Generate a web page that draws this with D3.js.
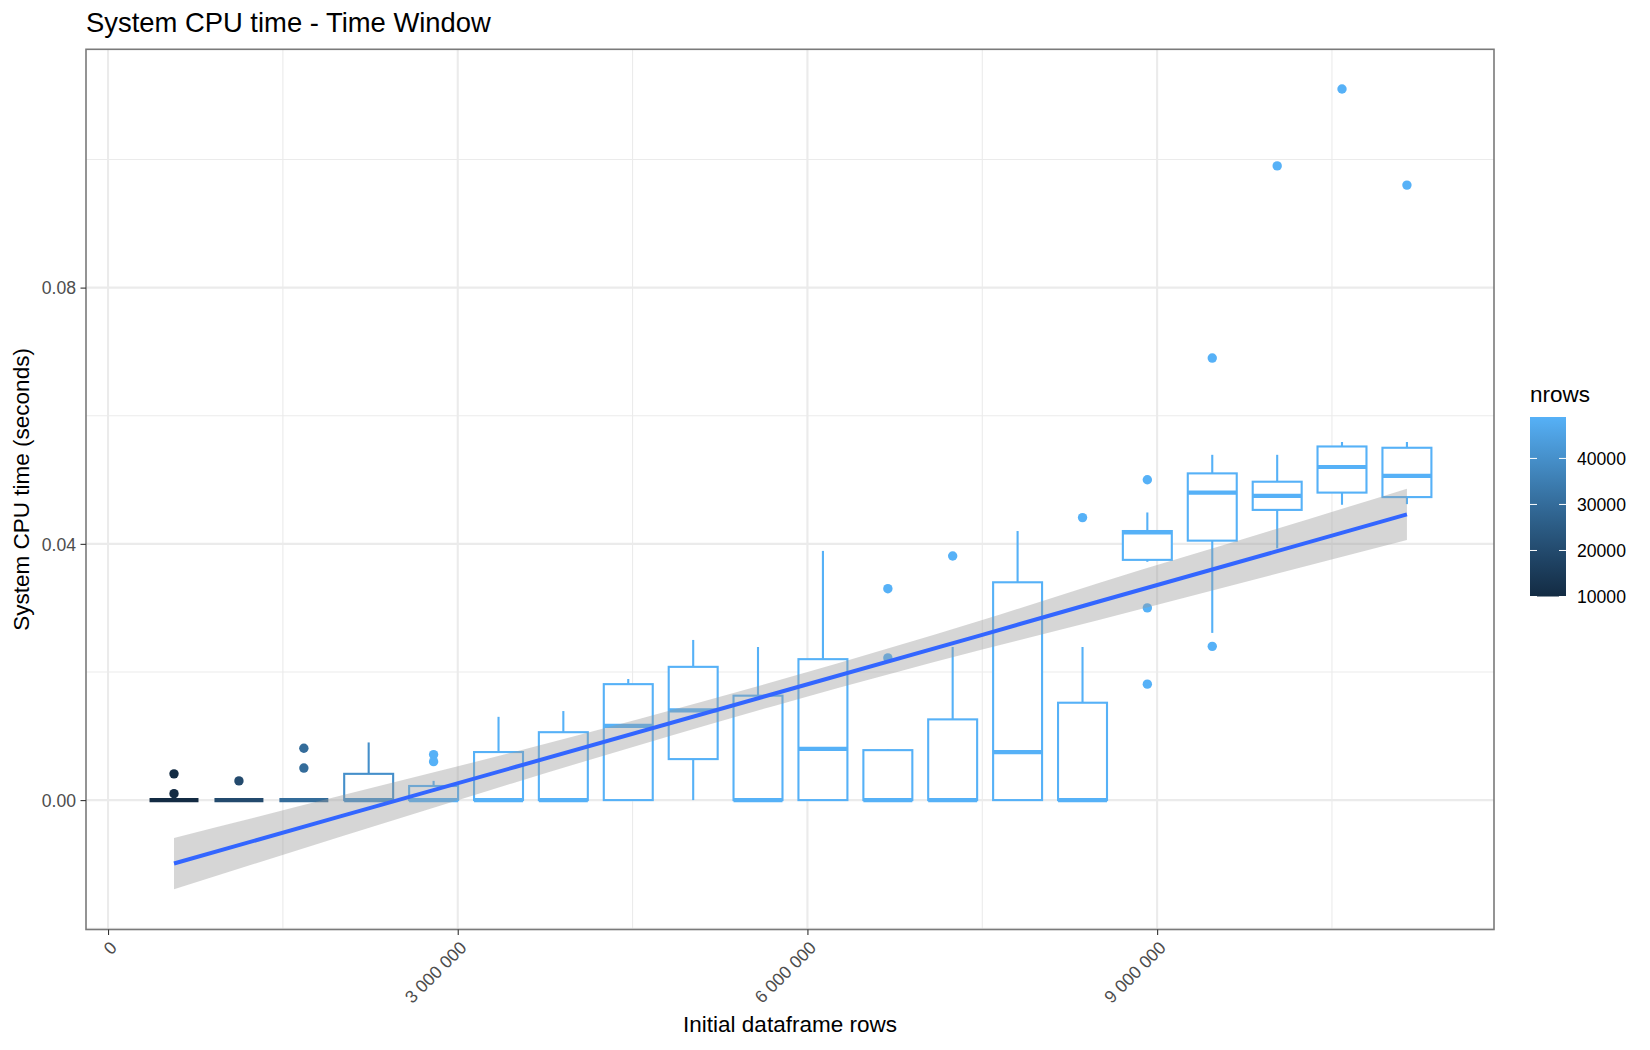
<!DOCTYPE html>
<html>
<head>
<meta charset="utf-8">
<script src="https://cdn.jsdelivr.net/npm/d3@7"></script>
<style>
  body { margin: 0; background: #fff; }
  text { font-family: "Liberation Sans", Arial, Helvetica, sans-serif; }
</style>
</head>
<body>
<div id="chart"></div>
<script>
const boxX = [566000, 1123000, 1680000, 2236000, 2793000, 3350000, 3906000, 4463000, 5020000, 5576000,
              6133000, 6690000, 7246000, 7803000, 8360000, 8916000, 9473000, 10030000, 10586000, 11143000]
const boxNrows = [10000, 20000, 30000, 40000, 49000, 49000, 49000, 49000, 49000, 49000,
                  49000, 49000, 49000, 49000, 49000, 49000, 49000, 49000, 49000, 49000]
const whiskerLow = [0, 0, 0, 0, 0, 0, 0, 0, 0, 0, 0, 0, 0, 0, 0, 0.0372, 0.0261, 0.0393, 0.0461, 0.0462]
const q1 = [0, 0, 0, 0, 0, 0, 0, 0, 0.0064, 0, 0, 0, 0, 0, 0, 0.0375, 0.0405, 0.0453, 0.0480, 0.0473]
const median = [0, 0, 0, 0, 0, 0, 0, 0.0116, 0.0140, 0, 0.0080, 0, 0, 0.0075, 0, 0.0418, 0.0480, 0.0475, 0.0520, 0.0506]
const q3 = [0, 0, 0, 0.0041, 0.0022, 0.0075, 0.0106, 0.0181, 0.0208, 0.0163,
            0.0220, 0.0078, 0.0126, 0.0340, 0.0152, 0.0420, 0.0510, 0.0497, 0.0552, 0.0550]
const whiskerHigh = [0, 0, 0, 0.0090, 0.0030, 0.0130, 0.0139, 0.0189, 0.0250, 0.0239,
                     0.0389, 0.0079, 0.0239, 0.0420, 0.0239, 0.0449, 0.0539, 0.0539, 0.0559, 0.0559]
const outliers = [[0.0041, 0.0010], [0.0030], [0.0081, 0.0050], [], [0.0071, 0.0060],
                  [], [], [], [], [],
                  [], [0.0330, 0.0222], [0.0381], [], [0.0441],
                  [0.0500, 0.0300, 0.0181], [0.0690, 0.0240], [0.0990], [0.1110], [0.0960]]

const smoothX = [566000, 2000000, 3500000, 5850000, 7500000, 8500000, 10000000, 11143000]
const smoothFit = [-0.0099, -0.0025, 0.0052, 0.0173, 0.0258, 0.0310, 0.0387, 0.0446]
const smoothLow = [-0.0139, -0.0057, 0.0028, 0.0154, 0.0235, 0.0281, 0.0352, 0.0406]
const smoothHigh = [-0.0059, 0.0007, 0.0076, 0.0192, 0.0281, 0.0339, 0.0422, 0.0486]

const xTicks = [0, 3000000, 6000000, 9000000]
const xTickLabels = ["0", "3 000 000", "6 000 000", "9 000 000"]
const xMinor = [1500000, 4500000, 7500000, 10500000]
const yTicks = [0, 0.04, 0.08]
const yTickLabels = ["0.00", "0.04", "0.08"]
const yMinor = [-0.02, 0.02, 0.06, 0.10]
const legendTicks = [10000, 20000, 30000, 40000]

const width = 1650, height = 1050
const pLeft = 86, pRight = 1494, pTop = 49.3, pBottom = 929.5
const boxWidth = 420000

const xScale = d3.scaleLinear().domain([-189000, 11890000]).range([pLeft, pRight])
const yScale = d3.scaleLinear().domain([-0.0202, 0.1172]).range([pBottom, pTop])
const colour = d3.scaleLinear().domain([10000, 49000]).range(["#132B43", "#56B1F7"]).interpolate(d3.interpolateLab)

const svg = d3.select("#chart").append("svg")
  .attr("width", width)
  .attr("height", height)

svg.append("rect").attr("width", width).attr("height", height).attr("fill", "#fff")

// grid
const grid = svg.append("g")
grid.selectAll(".ymin").data(yMinor).enter().append("line")
  .attr("x1", pLeft).attr("x2", pRight)
  .attr("y1", d => yScale(d)).attr("y2", d => yScale(d))
  .attr("stroke", "#ebebeb").attr("stroke-width", 1.1)
grid.selectAll(".xmin").data(xMinor).enter().append("line")
  .attr("y1", pTop).attr("y2", pBottom)
  .attr("x1", d => xScale(d)).attr("x2", d => xScale(d))
  .attr("stroke", "#ebebeb").attr("stroke-width", 1.1)
grid.selectAll(".ymaj").data(yTicks).enter().append("line")
  .attr("x1", pLeft).attr("x2", pRight)
  .attr("y1", d => yScale(d)).attr("y2", d => yScale(d))
  .attr("stroke", "#ebebeb").attr("stroke-width", 2.1)
grid.selectAll(".xmaj").data(xTicks).enter().append("line")
  .attr("y1", pTop).attr("y2", pBottom)
  .attr("x1", d => xScale(d)).attr("x2", d => xScale(d))
  .attr("stroke", "#ebebeb").attr("stroke-width", 2.1)

// boxplots
const boxes = svg.selectAll(".box").data(boxX.map((x, i) => i)).enter()
  .append("g").attr("class", "box")

boxes.each(function(i) {
  const g = d3.select(this)
  const c = colour(boxNrows[i])
  const cx = xScale(boxX[i])
  const x0 = xScale(boxX[i] - boxWidth / 2), x1 = xScale(boxX[i] + boxWidth / 2)
  g.selectAll("circle").data(outliers[i]).enter().append("circle")
    .attr("cx", cx).attr("cy", d => yScale(d)).attr("r", 4.7).attr("fill", c)
  g.append("line").attr("x1", cx).attr("x2", cx)
    .attr("y1", yScale(q3[i])).attr("y2", yScale(whiskerHigh[i]))
    .attr("stroke", c).attr("stroke-width", 2.1)
  g.append("line").attr("x1", cx).attr("x2", cx)
    .attr("y1", yScale(q1[i])).attr("y2", yScale(whiskerLow[i]))
    .attr("stroke", c).attr("stroke-width", 2.1)
  g.append("rect")
    .attr("x", x0).attr("width", x1 - x0)
    .attr("y", yScale(q3[i])).attr("height", yScale(q1[i]) - yScale(q3[i]))
    .attr("fill", "#fff").attr("stroke", c).attr("stroke-width", 2.1)
  g.append("line").attr("x1", x0).attr("x2", x1)
    .attr("y1", yScale(median[i])).attr("y2", yScale(median[i]))
    .attr("stroke", c).attr("stroke-width", 4.2)
})

// smooth
const smooth = smoothX.map((x, i) => ({ x: x, fit: smoothFit[i], lo: smoothLow[i], hi: smoothHigh[i] }))
svg.append("path").datum(smooth)
  .attr("d", d3.area().curve(d3.curveMonotoneX)
    .x(d => xScale(d.x)).y0(d => yScale(d.lo)).y1(d => yScale(d.hi)))
  .attr("fill", "#999999").attr("fill-opacity", 0.4)
svg.append("path").datum(smooth)
  .attr("d", d3.line().x(d => xScale(d.x)).y(d => yScale(d.fit)))
  .attr("fill", "none").attr("stroke", "#3366FF").attr("stroke-width", 4)

// panel border
svg.append("rect")
  .attr("x", pLeft).attr("y", pTop).attr("width", pRight - pLeft).attr("height", pBottom - pTop)
  .attr("fill", "none").attr("stroke", "#7a7a7a").attr("stroke-width", 1.6)

// axes
const xAxis = d3.axisBottom(xScale).tickValues(xTicks).tickFormat((d, i) => xTickLabels[i])
  .tickSize(5.5).tickSizeOuter(0)
const gx = svg.append("g").attr("transform", "translate(0," + pBottom + ")").call(xAxis)
gx.select(".domain").remove()
gx.selectAll("line").attr("stroke", "#333333").attr("stroke-width", 1.1)
gx.selectAll("text")
  .attr("x", 0).attr("y", 0).attr("dy", "0.75em")
  .attr("text-anchor", "end")
  .attr("transform", "translate(0,10) rotate(-45)")
  .attr("fill", "#4d4d4d").attr("font-size", 17.6)
  .style("font-family", "'Liberation Sans', Arial, sans-serif")

const yAxis = d3.axisLeft(yScale).tickValues(yTicks).tickFormat((d, i) => yTickLabels[i])
  .tickSize(5.5).tickSizeOuter(0)
const gy = svg.append("g").attr("transform", "translate(" + pLeft + ",0)").call(yAxis)
gy.select(".domain").remove()
gy.selectAll("line").attr("stroke", "#333333").attr("stroke-width", 1.1)
gy.selectAll("text")
  .attr("x", -10).attr("dy", "0.35em")
  .attr("fill", "#4d4d4d").attr("font-size", 17.6)
  .style("font-family", "'Liberation Sans', Arial, sans-serif")

// titles
svg.append("text").text("System CPU time - Time Window")
  .attr("x", 86).attr("y", 31.5).attr("font-size", 27.4).attr("fill", "#000")
svg.append("text").text("Initial dataframe rows")
  .attr("text-anchor", "middle").attr("font-size", 22.5)
  .attr("transform", "translate(" + (pLeft + pRight) / 2 + ",1032)")
svg.append("text").text("System CPU time (seconds)")
  .attr("text-anchor", "middle").attr("font-size", 22.5)
  .attr("transform", "translate(29," + (pTop + pBottom) / 2 + ")rotate(-90)")

// legend
const legY = d3.scaleLinear().domain([10000, 49000]).range([596.5, 417])
const legX = 1530, legW = 36
const grad = svg.append("defs").append("linearGradient")
  .attr("id", "nrowsGrad").attr("x1", 0).attr("x2", 0).attr("y1", 1).attr("y2", 0)
d3.range(0, 1.0001, 0.1).forEach(t => {
  grad.append("stop").attr("offset", t).attr("stop-color", colour(10000 + t * 39000))
})
svg.append("text").text("nrows").attr("x", legX).attr("y", 402).attr("font-size", 22.5)
svg.append("rect")
  .attr("x", legX).attr("y", legY(49000)).attr("width", legW).attr("height", legY(10000) - legY(49000))
  .attr("fill", "url(#nrowsGrad)")
const legTicks = svg.append("g")
legTicks.selectAll(".tl").data(legendTicks).enter().append("line")
  .attr("x1", legX).attr("x2", legX + 7)
  .attr("y1", d => legY(d)).attr("y2", d => legY(d))
  .attr("stroke", "#fff").attr("stroke-width", 1)
legTicks.selectAll(".tr").data(legendTicks).enter().append("line")
  .attr("x1", legX + legW - 7).attr("x2", legX + legW)
  .attr("y1", d => legY(d)).attr("y2", d => legY(d))
  .attr("stroke", "#fff").attr("stroke-width", 1)
legTicks.selectAll("text").data(legendTicks).enter().append("text")
  .text(d => d)
  .attr("x", 1577).attr("y", d => legY(d)).attr("dy", "0.35em")
  .attr("font-size", 17.6).attr("fill", "#000")
</script>
</body>
</html>
